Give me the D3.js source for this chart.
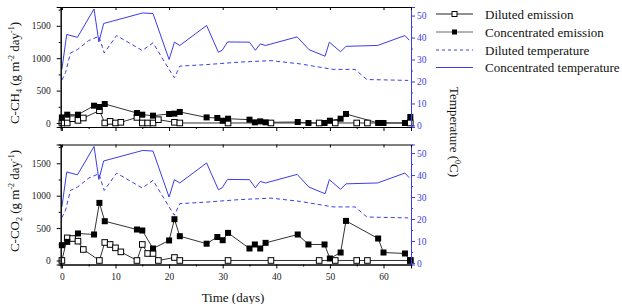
<!DOCTYPE HTML>
<html>
<head>
<meta charset="utf-8">
<script type="text/javascript" src="https://d3js.org/d3.v7.min.js"></script>
<style>
  body { margin: 0; background: #fff; }
</style>
</head>
<body>
<div id="chart"></div>
<script type="text/javascript">
// days of sampling
var concDays = [0, 1, 3, 6, 7, 8, 14, 15, 17, 20, 21, 22, 27, 29, 30, 31, 35, 36, 37, 38, 44, 46, 49, 50, 52, 53, 59, 60, 64, 65];
var dilDays = [0, 1, 2, 3, 4, 7, 8, 9, 10, 11, 14, 15, 16, 17, 18, 21, 22, 31, 39, 48, 51, 55, 57, 65];

// C-CH4 (g m-2 day-1)
var ch4Conc = [86, 128, 128, 267, 247, 293, 154, 128, 113, 139, 144, 170, 86, 77, 35, 66, 51, 10, 25, 10, 15, 0, 0, 35, 66, 139, 0, 0, 0, 92];
var ch4Dil = [0, 0, 66, 40, 77, 190, 0, 25, 0, 10, 86, 0, 0, 0, 51, 10, 0, 0, 0, 0, 0, 0, 0, 0];

// C-CO2 (g m-2 day-1)
var co2Conc = [236, 287, 417, 401, 889, 606, 478, 463, 185, 309, 637, 375, 259, 362, 313, 426, 185, 247, 185, 272, 401, 247, 247, 31, 123, 611, 339, 123, 108, 0];
var co2Dil = [0, 349, 339, 298, 170, 0, 278, 247, 195, 133, 0, 247, 108, 108, 0, 46, 0, 0, 0, 0, 0, 0, 0, 0];

// temperature (deg C)
var concTempDays = [0, 0.9, 2.9, 6, 6.9, 7.8, 15.1, 17, 20, 21, 22, 27, 29.2, 29.9, 30.9, 35, 36.1, 37, 38, 43.9, 46.1, 49.1, 49.9, 52, 53, 58.9, 64, 64.8];
var concTemp = [25.5, 41.4, 40.1, 53, 38, 46.4, 51.2, 50.9, 30, 37.9, 36.4, 45.5, 33.3, 34.2, 38, 37.9, 34.2, 37.1, 36.4, 40.3, 34.5, 31.5, 37.9, 33.5, 36, 36.4, 40.9, 38.8];
var dilTempDays = [0, 0.7, 1.6, 2.9, 5, 6.9, 7.9, 10.2, 15, 17, 20, 21, 22, 27, 33, 39, 44.5, 50.6, 54.7, 56.9, 64.6];
var dilTemp = [20.6, 24.2, 33, 34.5, 38.6, 40.6, 33, 40.9, 34.1, 37.6, 25.5, 21.7, 27, 27.7, 28.8, 29.5, 28, 25.5, 25.5, 20.9, 20.5];

var xTicks = [0, 10, 20, 30, 40, 50, 60];
var yTicks = [0, 500, 1000, 1500];
var tTicks = [0, 10, 20, 30, 40, 50];
var legendLabels = ["Diluted emission", "Concentrated emission", "Diluted temperature", "Concentrated temperature"];

var blue = "#3c3ce8";
var serif = "Liberation Serif";
var W = 622, H = 304;
var left = 60.7, right = 411;

var svg = d3.select("#chart").append("svg").attr("width", W).attr("height", H);

var x = d3.scaleLinear().domain([-0.22, 65.13]).range([left, right]);

function zip(xs, ys) { return xs.map(function(d, i) { return [d, ys[i]]; }); }

function styleAxis(sel, color) {
  sel.attr("font-family", serif).attr("font-size", 9.5);
  sel.selectAll(".domain").attr("stroke", color).attr("stroke-width", 1);
  sel.selectAll(".tick line").attr("stroke", color);
  sel.selectAll(".tick text").attr("fill", color === "#000" ? "#222" : color);
}

function panel(top, bottom, conc, dil, showX) {
  var y = d3.scaleLinear().domain([-62, 1790]).range([bottom, top]);
  var t = d3.scaleLinear().domain([-0.7, 53.9]).range([bottom, top]);
  var g = svg.append("g");

  // temperature lines
  var tLine = d3.line().x(function(d) { return x(d[0]); }).y(function(d) { return t(d[1]); });
  g.append("path").datum(zip(dilTempDays, dilTemp)).attr("d", tLine)
    .attr("fill", "none").attr("stroke", blue).attr("stroke-width", 1).attr("stroke-dasharray", "4,3");
  g.append("path").datum(zip(concTempDays, concTemp)).attr("d", tLine)
    .attr("fill", "none").attr("stroke", blue).attr("stroke-width", 1);

  // emission lines
  var eLine = d3.line().x(function(d) { return x(d[0]); }).y(function(d) { return y(d[1]); });
  g.append("path").datum(zip(dilDays, dil)).attr("d", eLine)
    .attr("fill", "none").attr("stroke", "#333").attr("stroke-width", 1);
  g.append("path").datum(zip(concDays, conc)).attr("d", eLine)
    .attr("fill", "none").attr("stroke", "#333").attr("stroke-width", 1);

  g.selectAll("rect.dil").data(zip(dilDays, dil)).enter().append("rect")
    .attr("x", function(d) { return x(d[0]) - 2.8; }).attr("y", function(d) { return y(d[1]) - 2.8; })
    .attr("width", 5.6).attr("height", 5.6).attr("fill", "#fff").attr("stroke", "#000").attr("stroke-width", 1);
  g.selectAll("rect.conc").data(zip(concDays, conc)).enter().append("rect")
    .attr("x", function(d) { return x(d[0]) - 3; }).attr("y", function(d) { return y(d[1]) - 3; })
    .attr("width", 6).attr("height", 6).attr("fill", "#000");

  // axes
  var ya = g.append("g").attr("transform", "translate(" + left + ",0)")
    .call(d3.axisLeft(y).tickValues(yTicks).tickSize(4).tickPadding(6).tickFormat(d3.format("d")));
  var ym = g.append("g").attr("transform", "translate(" + left + ",0)")
    .call(d3.axisLeft(y).tickValues([250, 750, 1250, 1750]).tickSize(2).tickFormat(""));
  styleAxis(ya, "#000"); styleAxis(ym, "#000");

  var ta = g.append("g").attr("transform", "translate(" + right + ",0)")
    .call(d3.axisRight(t).tickValues(tTicks).tickSize(4).tickPadding(2).tickFormat(d3.format("d")));
  var tm = g.append("g").attr("transform", "translate(" + right + ",0)")
    .call(d3.axisRight(t).tickValues([5, 15, 25, 35, 45]).tickSize(2).tickFormat(""));
  styleAxis(ta, blue); styleAxis(tm, blue);

  var xa = g.append("g").attr("transform", "translate(0," + bottom + ")")
    .call(d3.axisBottom(x).tickValues(xTicks).tickSize(4).tickPadding(5).tickFormat(showX ? d3.format("d") : ""));
  var xm = g.append("g").attr("transform", "translate(0," + bottom + ")")
    .call(d3.axisBottom(x).tickValues([5, 15, 25, 35, 45, 55]).tickSize(2).tickFormat(""));
  var xt = g.append("g").attr("transform", "translate(0," + top + ")")
    .call(d3.axisBottom(x).tickValues(xTicks).tickSize(3).tickFormat(""));
  styleAxis(xa, "#000"); styleAxis(xm, "#000"); styleAxis(xt, "#000");
  return g;
}

panel(7, 127, ch4Conc, ch4Dil, false);
panel(144.5, 264.5, co2Conc, co2Dil, true);

// y titles
function yTitle(cx, cy, gas, sub) {
  var txt = svg.append("text").attr("transform", "translate(" + cx + "," + cy + ") rotate(-90)")
    .attr("text-anchor", "middle").attr("font-family", serif).attr("font-size", 13).attr("fill", "#111");
  txt.append("tspan").text("C-" + gas);
  txt.append("tspan").attr("font-size", 8).attr("dy", 3).text(sub);
  txt.append("tspan").attr("dy", -3).text(" (g m");
  txt.append("tspan").attr("font-size", 8).attr("dy", -5).text("-2");
  txt.append("tspan").attr("dy", 5).text(" day");
  txt.append("tspan").attr("font-size", 8).attr("dy", -5).text("-1");
  txt.append("tspan").attr("dy", 5).text(")");
}
yTitle(19, 73, "CH", "4");
yTitle(19, 201, "CO", "2");

// right title
var rt = svg.append("text").attr("transform", "translate(450,132) rotate(90)")
  .attr("text-anchor", "middle").attr("font-family", serif).attr("font-size", 13).attr("fill", "#111");
rt.append("tspan").text("Temperature (");
rt.append("tspan").attr("font-size", 8).attr("dy", -5).text("0");
rt.append("tspan").attr("dy", 5).text("C)");

// x title
svg.append("text").attr("x", 233).attr("y", 302).attr("text-anchor", "middle")
  .attr("font-family", serif).attr("font-size", 13).attr("fill", "#111").text("Time (days)");

// legend
var lg = svg.append("g").attr("transform", "translate(436,0)");
var rows = [14, 32, 50, 67.5];
legendLabels.forEach(function(lab, i) {
  var yy = rows[i];
  var ln = lg.append("line").attr("x1", 0).attr("x2", 37).attr("y1", yy).attr("y2", yy).attr("stroke-width", 1);
  if (i < 2) {
    ln.attr("stroke", i === 0 ? "#222" : "#666");
    lg.append("rect").attr("x", 16).attr("y", yy - 2.5).attr("width", 5).attr("height", 5)
      .attr("fill", i === 0 ? "#fff" : "#000").attr("stroke", "#000").attr("stroke-width", i === 0 ? 1 : 0);
  } else {
    ln.attr("stroke", blue);
    if (i === 2) ln.attr("stroke-dasharray", "3,3");
  }
  lg.append("text").attr("x", 49).attr("y", yy + 4.5).attr("font-family", serif)
    .attr("font-size", 13).attr("fill", "#111").text(lab);
});
</script>
</body>
</html>
